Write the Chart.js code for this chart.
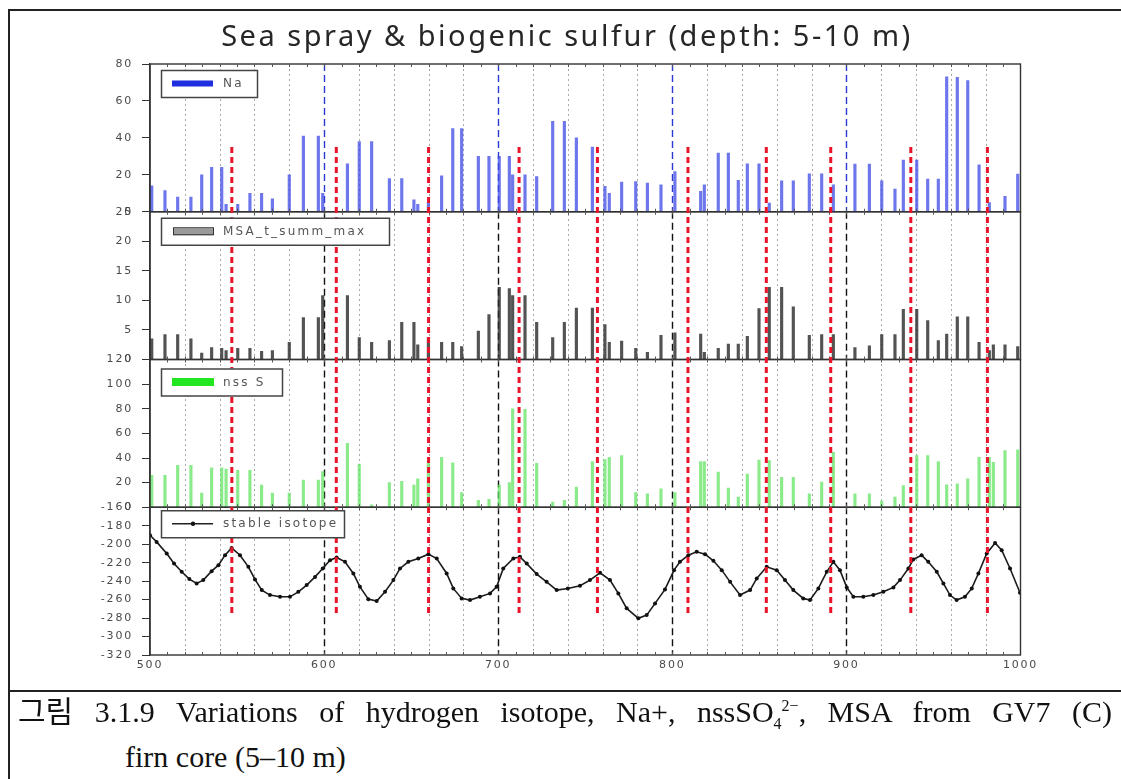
<!DOCTYPE html>
<html>
<head>
<meta charset="utf-8">
<script src="https://cdn.jsdelivr.net/npm/chart.js@4.4.1/dist/chart.umd.min.js"></script>
<style>
html,body{margin:0;padding:0;background:#fff;}
body{width:1121px;height:779px;position:relative;overflow:hidden;}
#wrap{position:absolute;left:0;top:0;width:1121px;height:690px;}
#title{position:absolute;left:0;top:15px;width:1134px;text-align:center;font-family:'Noto Sans','DejaVu Sans',sans-serif;font-size:29px;letter-spacing:2.5px;color:#262626;white-space:nowrap;}
.rule{position:absolute;background:#222;}
.cap{position:absolute;font-family:'Liberation Serif','Noto Sans CJK KR',serif;font-size:30px;line-height:34px;color:#111;}
.cap sub,.cap sup{font-size:16px;line-height:0;}
</style>
</head>
<body>
<div id="wrap"><canvas id="c" width="1121" height="690"></canvas></div>
<div id="title">Sea spray &amp; biogenic sulfur (depth: 5-10 m)</div>
<div class="rule" style="left:8px;top:9px;width:1113px;height:2px;"></div>
<div class="rule" style="left:8px;top:9px;width:2px;height:770px;"></div>
<div class="rule" style="left:8px;top:690px;width:1113px;height:2px;"></div>
<div class="cap" style="left:18px;top:695px;width:1094px;text-align:justify;text-align-last:justify;">그림 3.1.9 Variations of hydrogen isotope, Na+, nssSO<sub>4</sub><sup>2−</sup>, MSA from GV7 (C)</div>
<div class="cap" style="left:125px;top:740px;white-space:nowrap;">firn core (5–10 m)</div>
<script>
// ---------- data ----------
const depth = [501, 508.6, 515.9, 523.5, 529.7, 535.4, 541.2, 543.7, 550.4, 557.4,
  564.1, 570.3, 580, 588.1, 596.7, 599.2, 613.4, 620.2, 627.3, 637.5,
  644.6, 651.6, 653.8, 659.9, 667.5, 673.9, 679, 688.6, 694.7, 700.6,
  706.4, 708.3, 715.4, 722.1, 731.3, 738, 744.9, 754.1, 761.3, 763.8,
  770.9, 779, 785.7, 793.5, 801.5, 816.3, 818.4, 826.4, 832.2, 837.9,
  843.1, 849.8, 855.7, 862.8, 869.5, 878.7, 885.8, 892.5, 904.9, 913.2,
  920.3, 927.9, 932.7, 940.4, 946.7, 952.8, 957.6, 963.7, 969.7, 976.2,
  982.1, 984.4, 991.1, 998.4];

const naValues = [14, 11.5, 8, 8, 20, 24, 24, 4, 4, 10,
  10, 7, 20, 41, 41, 10, 26, 38, 38, 18,
  18, 6.5, 4, 5, 19.5, 45, 45, 30, 30, 30,
  30, 20, 20, 19, 49, 49, 40, 35, 13.7, 10,
  16, 16.4, 15.5, 14.6, 21.8, 11, 14.6, 31.7, 31.7, 17,
  26, 26, 4.7, 16.8, 16.8, 20.5, 20.5, 14.6, 25.8, 25.8,
  16.8, 12.3, 28, 28, 17.7, 17.7, 73, 72.8, 71, 25.4,
  5, null, 8.3, 20.4];

const msaValues = [3.5, 4.2, 4.2, 3.5, 1.1, 2, 1.9, 1.5, 1.9, 1.9,
  1.4, 1.5, 2.9, 7.1, 7.1, 10.8, 10.8, 3.7, 2.9, 3.2,
  6.3, 6.3, 2.5, 3.7, 2.9, 2.9, 2.2, 4.8, 7.6, 12.2,
  12, 10.8, 10.8, 6.3, 3.7, 6.3, 8.7, 8.7, 5.9, 2.9,
  3.1, 1.9, 1.2, 4.1, 4.5, 4.3, 1.2, 1.9, 2.6, 2.6,
  3.9, 8.6, 12.2, 12.2, 8.9, 4.1, 4.2, 4.2, 2, 2.3,
  4.2, 4.2, 8.5, 8.5, 6.6, 3.2, 4.3, 7.2, 7.2, 2.9,
  1.5, 2.5, 2.5, 2.2];

const nssValues = [26, 26, 34, 34, 11.5, 32, 32, 31, 30, 30,
  18, 11.5, 11.5, 22, 22, 29, 52, 35, 2, 20,
  21, 18, 23, 37, 40.5, 36, 12, 5.6, 6.4, 18,
  20, 80, 79.5, 35.7, 4.3, 5.6, 16.4, 37, 38.7, 40.5,
  42, 12, 11, 15, 12, 37, 37, 28.5, 15.6, 8.3,
  27, 38.4, 38, 24.4, 24.4, 11, 20.4, 44.6, 11, 11,
  5, 8.3, 17.7, 42, 42, 37, 18.3, 19, 23, 40.5,
  40.5, 36.5, 46, 46.7];

const isoDepth = [500, 503.8, 509.6, 513.8, 518.2, 522.6, 526.8, 530.6, 535.4, 539.3,
  543.1, 546.9, 551.7, 556.5, 560.3, 564.2, 568.9, 574.7, 580.4, 585.2,
  590, 594.8, 599.2, 603.4, 607.2, 612, 616.8, 620.6, 625.4, 630.2,
  635, 639.8, 643.6, 648.4, 654.1, 659.9, 664.7, 670.4, 674.2, 679,
  683.8, 689.5, 695.3, 699.1, 702.9, 708.7, 712.5, 716.4, 722.1, 727.8,
  733.6, 740, 747, 752.7, 758.5, 764.2, 769, 773.8, 780.5, 785.3,
  790.1, 795.8, 801, 804.4, 809.2, 814, 818.8, 823.6, 828.4, 833.2,
  838.9, 844.7, 848.5, 854.2, 860, 864.7, 869.5, 875.2, 879.1, 883.9,
  888.7, 892.5, 896.3, 900.2, 904, 909.7, 915.5, 921.2, 927, 930.8,
  935.6, 938.4, 943.2, 947, 951.9, 955.7, 959.5, 963.3, 968.1, 972,
  975.8, 980.6, 985.4, 989.2, 994, 999.7];

const isoValues = [-190.3, -197.5, -210.1, -220.9, -229.9, -237.8, -242.5, -238.9, -229.2, -222.7,
  -211.9, -204, -211.9, -224.5, -238.2, -249.7, -255.1, -257, -257, -251.6,
  -244.3, -235.4, -226.3, -217.3, -214.4, -219.1, -231.7, -246.2, -259.5, -261.6,
  -251.6, -238.9, -226.3, -219.1, -215.5, -210.8, -215.5, -231.7, -247.9, -258.7,
  -260.5, -257, -253.3, -246.2, -226.3, -215.5, -213.7, -221, -232.4, -240.8,
  -249.7, -248, -245, -238.9, -231, -238.9, -253.3, -269.5, -280.3, -276.8,
  -264.1, -249, -228.1, -219.1, -211.9, -208.3, -210.8, -218, -228.1, -240.8,
  -255.1, -249.7, -237.1, -224.5, -228.1, -238.9, -249.7, -258.7, -260.5, -247.9,
  -229.9, -219.1, -228.1, -246.8, -257, -257, -255.1, -251.6, -246.8, -238.9,
  -226.3, -216.5, -211.9, -219.1, -229.9, -242.5, -255.1, -260.5, -257, -247.9,
  -231.7, -210.1, -198.6, -206.5, -226.3, -252.6];

const seasonMarkers = [547, 607, 660, 712, 757, 809, 854, 891, 937, 981];
const markerTop = 35;      // Na scale value where marker lines start
const markerBottom = -275; // isotope scale value where marker lines end
const panelLabels = ['Na', 'MSA_t_summ_max', 'nss S', 'stable isotope'];

// ---------- helpers ----------
const pts = (xs, ys) => xs.map((x, i) => ({x: x, y: ys[i]})).filter(p => p.y !== null);
const tickFont = {family: "'DejaVu Sans', sans-serif", size: 11};
const tickColor = '#4a4a4a';

function yAxis(min, max, step, weight) {
  return {
    type: 'linear', position: 'left', stack: 'panels', stackWeight: 1, weight: weight,
    min: min, max: max,
    ticks: {stepSize: step, autoSkip: false, font: tickFont, color: tickColor, padding: 9,
      callback: v => String(v)},
    grid: {display: true, drawOnChartArea: false, drawTicks: true, tickLength: 8, tickColor: '#333', tickWidth: 1},
    border: {display: true, color: '#333', width: 1.5},
    afterFit: s => { s.width = 60; }
  };
}

const panelPlugin = {
  id: 'panels',
  beforeDraw(chart) { chart.ctx.letterSpacing = '1.8px'; },
  beforeDatasetsDraw(chart) {
    const {ctx, chartArea, scales} = chart;
    const x = scales.x;
    const panels = [scales.yNa, scales.yMsa, scales.yNss, scales.yIso];
    ctx.save();
    ctx.lineWidth = 1;
    ctx.strokeStyle = 'rgba(100,100,100,0.55)';
    ctx.setLineDash([2, 3]);
    for (let v = 520; v < 1000; v += 20) {
      if (v % 100 === 0) continue;
      const px = Math.round(x.getPixelForValue(v)) + 0.5;
      ctx.beginPath(); ctx.moveTo(px, chartArea.top); ctx.lineTo(px, chartArea.bottom); ctx.stroke();
    }
    ctx.lineWidth = 1.4;
    ctx.setLineDash([7, 4]);
    for (let v = 600; v < 1000; v += 100) {
      const px = Math.round(x.getPixelForValue(v)) + 0.5;
      panels.forEach((s, i) => {
        ctx.strokeStyle = i === 0 ? '#2a3ad0' : '#111';
        ctx.beginPath(); ctx.moveTo(px, s.top); ctx.lineTo(px, s.bottom); ctx.stroke();
      });
    }
    ctx.restore();
  },
  afterDatasetsDraw(chart) {
    const {ctx, chartArea, scales} = chart;
    const x = scales.x;
    const panels = [scales.yNa, scales.yMsa, scales.yNss, scales.yIso];
    ctx.save();
    ctx.setLineDash([]);
    ctx.strokeStyle = '#333';
    ctx.lineWidth = 1.4;
    panels.forEach(s => {
      ctx.strokeRect(chartArea.left, s.top, chartArea.right - chartArea.left, s.bottom - s.top);
    });
    ctx.lineWidth = 1;
    ctx.strokeStyle = '#555';
    panels.forEach(s => {
      for (let v = 510; v < 1000; v += 10) {
        const px = Math.round(x.getPixelForValue(v)) + 0.5;
        ctx.beginPath(); ctx.moveTo(px, s.bottom); ctx.lineTo(px, s.bottom - 3); ctx.stroke();
        ctx.beginPath(); ctx.moveTo(px, s.top); ctx.lineTo(px, s.top + 3); ctx.stroke();
      }
    });
    ctx.strokeStyle = '#e8152a';
    ctx.lineWidth = 3;
    ctx.setLineDash([6, 4]);
    const yTop = scales.yNa.getPixelForValue(markerTop);
    const yBot = scales.yIso.getPixelForValue(markerBottom);
    seasonMarkers.forEach(v => {
      const px = x.getPixelForValue(v);
      ctx.beginPath(); ctx.moveTo(px, yTop); ctx.lineTo(px, yBot); ctx.stroke();
    });
    ctx.setLineDash([]);
    const boxes = [
      {dy: 6, w: 96},
      {dy: 6, w: 228},
      {dy: 9, w: 121},
      {dy: 3, w: 183}
    ];
    ctx.font = "12px 'DejaVu Sans', sans-serif";
    ctx.letterSpacing = '2.2px';
    ctx.textBaseline = 'middle';
    panels.forEach((s, i) => {
      const bx = chartArea.left + 11, by = s.top + boxes[i].dy, bw = boxes[i].w, bh = 27;
      ctx.fillStyle = '#fff';
      ctx.fillRect(bx, by, bw, bh);
      ctx.strokeStyle = '#444';
      ctx.lineWidth = 1.5;
      ctx.strokeRect(bx + 0.5, by + 0.5, bw, bh);
      const sx = bx + 11, sy = by + bh / 2;
      if (i === 0) { ctx.fillStyle = '#1f2fe0'; ctx.fillRect(sx, sy - 3, 41, 6); }
      if (i === 1) { ctx.fillStyle = '#9a9a9a'; ctx.fillRect(sx + 1, sy - 3, 40, 7); ctx.strokeStyle = '#333'; ctx.lineWidth = 1; ctx.strokeRect(sx + 1.5, sy - 3.5, 40, 7); }
      if (i === 2) { ctx.fillStyle = '#22e622'; ctx.fillRect(sx, sy - 4, 42, 8); }
      if (i === 3) {
        ctx.strokeStyle = '#222'; ctx.lineWidth = 1.4;
        ctx.beginPath(); ctx.moveTo(sx, sy); ctx.lineTo(sx + 41, sy); ctx.stroke();
        ctx.fillStyle = '#111'; ctx.beginPath(); ctx.arc(sx + 21, sy, 2.2, 0, Math.PI * 2); ctx.fill();
      }
      ctx.fillStyle = '#555';
      ctx.fillText(panelLabels[i], bx + 62, sy + 0.5);
    });
    ctx.restore();
  },
  afterDraw(chart) { chart.ctx.letterSpacing = '0px'; }
};

new Chart(document.getElementById('c'), {
  data: {
    datasets: [
      {type: 'bar', label: panelLabels[0], data: pts(depth, naValues), yAxisID: 'yNa',
        backgroundColor: 'rgba(60,72,228,0.75)', barThickness: 2.5, grouped: false},
      {type: 'bar', label: panelLabels[1], data: pts(depth, msaValues), yAxisID: 'yMsa',
        backgroundColor: 'rgba(40,40,40,0.8)', barThickness: 2.5, grouped: false},
      {type: 'bar', label: panelLabels[2], data: pts(depth, nssValues), yAxisID: 'yNss',
        backgroundColor: 'rgba(100,228,100,0.75)', barThickness: 2.5, grouped: false},
      {type: 'line', label: panelLabels[3], data: pts(isoDepth, isoValues), yAxisID: 'yIso',
        borderColor: '#1a1a1a', borderWidth: 1.6, pointRadius: 2, pointBackgroundColor: '#111',
        pointBorderWidth: 0, tension: 0, fill: false}
    ]
  },
  options: {
    responsive: false, animation: false, devicePixelRatio: 1,
    layout: {padding: {left: 90, top: 64, right: 100.5, bottom: 10}},
    plugins: {legend: {display: false}, tooltip: {enabled: false}, title: {display: false}},
    scales: {
      x: {type: 'linear', min: 500, max: 1000, offset: false,
        ticks: {stepSize: 100, font: tickFont, color: tickColor, padding: 4, maxRotation: 0,
          callback: v => String(v)},
        grid: {display: false, offset: false, drawTicks: false, tickLength: 0}, border: {display: false},
        afterFit: s => { s.height = 25; }},
      yIso: yAxis(-320, -160, 20, 1),
      yNss: yAxis(0, 120, 20, 2),
      yMsa: yAxis(0, 25, 5, 3),
      yNa: yAxis(0, 80, 20, 4)
    }
  },
  plugins: [panelPlugin]
});
</script>
</body>
</html>
